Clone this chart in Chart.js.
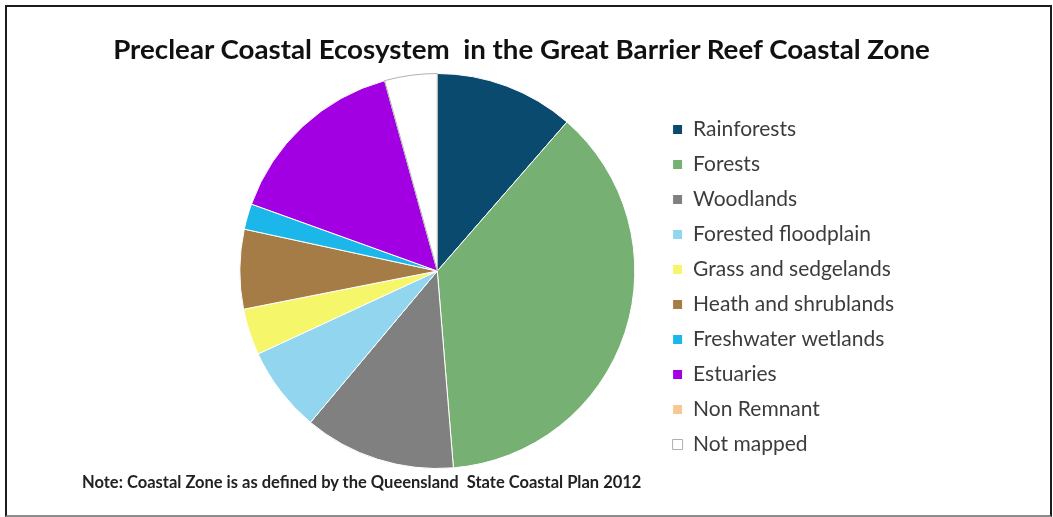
<!DOCTYPE html>
<html>
<head>
<meta charset="utf-8">
<script src="https://cdn.jsdelivr.net/npm/chart.js@4.4.1/dist/chart.umd.min.js"></script>
<style>
    html, body { margin: 0; padding: 0; background: #ffffff; }
    body { width: 1053px; height: 517px; position: relative; overflow: hidden; }
    #frame {
        position: absolute; left: 5px; top: 5px; width: 1047px; height: 512px;
        box-sizing: border-box; border: 2px solid #1c1c1c; border-bottom-color: #8c8c8c;
    }
    #chart { position: absolute; left: 0; top: 0; }
    #title {
        position: absolute; left: -5px; width: 1053px; top: 33px; text-align: center;
        font: bold 26px Lato, sans-serif; color: #111111; white-space: pre;
        transform: scaleX(1.066); transform-origin: 526px 0;
    }
    #note {
        position: absolute; left: 82px; top: 472px;
        font: bold 16.5px Lato, sans-serif; color: #222222; white-space: pre;
    }
</style>
</head>
<body>
<div id="frame"></div>
<canvas id="chart" width="1053" height="517"></canvas>
<div id="title">Preclear Coastal Ecosystem  in the Great Barrier Reef Coastal Zone</div>
<div id="note">Note: Coastal Zone is as defined by the Queensland  State Coastal Plan 2012</div>
<script>
    const categories = [
        'Rainforests', 'Forests', 'Woodlands', 'Forested floodplain', 'Grass and sedgelands',
        'Heath and shrublands', 'Freshwater wetlands', 'Estuaries', 'Non Remnant', 'Not mapped'
    ];
    // share of the preclear coastal zone, percent
    const shares = [11.4, 37.3, 12.4, 7.0, 3.8, 6.5, 2.1, 15.2, 0, 4.3];
    const sliceColors = [
        '#0b4a6f', '#76b173', '#808080', '#92d5ef', '#f6f66b',
        '#a67c46', '#1bb7ea', '#a200e2', '#f7c896', '#ffffff'
    ];
    const sliceBorders = [
        '#ffffff', '#ffffff', '#ffffff', '#ffffff', '#ffffff',
        '#ffffff', '#ffffff', '#ffffff', '#ffffff', '#b0b0b0'
    ];

    const ctx = document.getElementById('chart');

    new Chart(ctx, {
        type: 'pie',
        data: {
            labels: categories,
            datasets: [{
                data: shares,
                backgroundColor: sliceColors,
                borderColor: sliceBorders,
                borderWidth: 1
            }]
        },
        options: {
            responsive: false,
            animation: false,
            layout: {
                padding: { top: 73, bottom: 48, left: 216, right: 149 }
            },
            plugins: {
                legend: {
                    position: 'right',
                    align: 'end',
                    labels: {
                        boxWidth: 10,
                        boxHeight: 10,
                        padding: 14,
                        color: '#3c3c3c',
                        font: { family: 'Lato, sans-serif', size: 21 }
                    }
                },
                tooltip: { enabled: false }
            }
        }
    });
</script>
</body>
</html>
